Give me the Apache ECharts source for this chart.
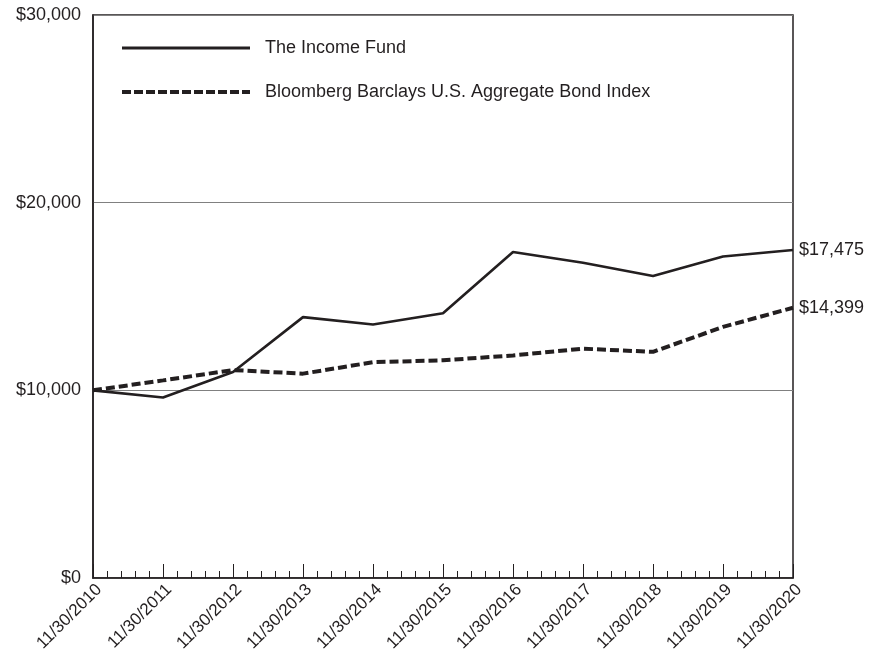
<!DOCTYPE html>
<html>
<head>
<meta charset="utf-8">
<script src="https://cdn.jsdelivr.net/npm/echarts@6/dist/echarts.min.js"></script>
<style>
html,body{margin:0;padding:0;background:#fff;}
#chart{width:872px;height:662px;}
</style>
</head>
<body>
<div id="chart"></div>
<script>
var categories = ['11/30/2010','11/30/2011','11/30/2012','11/30/2013','11/30/2014','11/30/2015','11/30/2016','11/30/2017','11/30/2018','11/30/2019','11/30/2020'];
var fundValues = [10000, 9620, 10975, 13900, 13510, 14110, 17370, 16800, 16090, 17130, 17475];
var indexValues = [10000, 10530, 11080, 10890, 11500, 11600, 11860, 12220, 12050, 13380, 14399];
var yTicks = [0, 10000, 20000, 30000];
var seriesNames = ['The Income Fund', 'Bloomberg Barclays U.S. Aggregate Bond Index'];

function toPairs(arr){ return arr.map(function(v,i){ return [i, v]; }); }
function money(v){ return '$' + v.toLocaleString('en-US'); }

var FONT = '"Liberation Sans", Arial, sans-serif';
var INK = '#231f20';

var chart = echarts.init(document.getElementById('chart'), null, {renderer:'canvas'});
chart.setOption({
  animation: false,
  backgroundColor: '#fff',
  grid: {left: 93, right: 79, top: 15, bottom: 84, show: true, borderColor: INK, borderWidth: 1.5, backgroundColor: 'transparent'},
  legend: {
    orient: 'vertical', left: 120, top: 39, padding: 0,
    itemWidth: 128, itemHeight: 18, itemGap: 26,
    itemStyle: {opacity: 0},
    textStyle: {fontFamily: FONT, fontSize: 18, color: INK, padding: [0,0,0,10]},
    data: [
      {name: seriesNames[0], lineStyle: {width: 3, color: INK}},
      {name: seriesNames[1], lineStyle: {width: 4, color: INK, type: [9, 3]}}
    ]
  },
  xAxis: {
    type: 'value', min: 0, max: 10, interval: 1,
    axisLine: {show: true, lineStyle: {color: INK, width: 1.5}},
    axisTick: {show: true, inside: true, length: 14, lineStyle: {color: INK, width: 1}},
    minorTick: {show: true, splitNumber: 5, length: 7, lineStyle: {color: INK, width: 1}},
    splitLine: {show: false},
    axisLabel: {
      rotate: 45, fontFamily: FONT, fontSize: 17, color: INK, margin: 3, verticalAlign: 'top',
      formatter: function(v){ return categories[Math.round(v)] || ''; }
    }
  },
  yAxis: {
    type: 'value', min: yTicks[0], max: yTicks[yTicks.length-1], interval: 10000,
    axisLine: {show: true, lineStyle: {color: INK, width: 1.5}},
    axisTick: {show: false},
    splitLine: {show: true, lineStyle: {color: '#808080', width: 1}},
    axisLabel: {fontFamily: FONT, fontSize: 18, color: INK, margin: 12, formatter: function(v){ return money(v); }}
  },
  series: [
    {
      name: seriesNames[0], type: 'line', data: toPairs(fundValues),
      symbol: 'none', z: 3,
      lineStyle: {color: INK, width: 2.6},
      itemStyle: {color: INK},
      endLabel: {show: true, distance: 6, fontFamily: FONT, fontSize: 18, color: INK,
        formatter: function(p){ return money(p.value[1]); }}
    },
    {
      name: seriesNames[1], type: 'line', data: toPairs(indexValues),
      symbol: 'none', z: 2,
      lineStyle: {color: INK, width: 4, type: [9, 4]},
      itemStyle: {color: INK},
      endLabel: {show: true, distance: 6, fontFamily: FONT, fontSize: 18, color: INK,
        formatter: function(p){ return money(p.value[1]); }}
    }
  ]
});
</script>
</body>
</html>
